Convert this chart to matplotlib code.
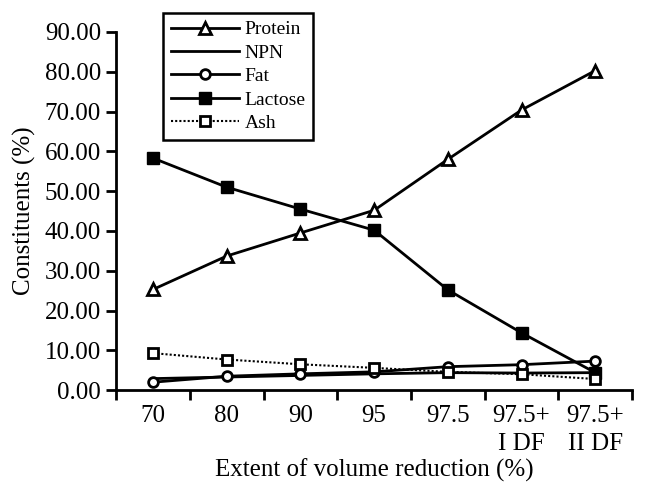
import numpy as np
import matplotlib
matplotlib.use("Agg")
import matplotlib.pyplot as plt

# Datos
categories = ["70", "80", "90", "95", "97.5", "97.5+\nI DF", "97.5+\nII DF"]
protein = [25.3, 33.7, 39.5, 45.2, 58.0, 70.4, 80.3]
npn = [2.9, 3.3, 3.7, 4.1, 4.4, 4.3, 4.4]
fat = [2.0, 3.5, 4.1, 4.6, 5.9, 6.4, 7.3]
lactose = [58.3, 51.0, 45.5, 40.2, 25.2, 14.4, 4.4]
ash = [9.3, 7.7, 6.5, 5.6, 4.6, 4.0, 2.8]

plt.rcParams['font.family'] = ['Liberation Serif', 'DejaVu Serif']

fig = plt.figure(figsize=(6.49, 4.92), dpi=100)
ax = fig.add_axes([0.179, 0.207, 0.795, 0.728])

x = np.arange(len(categories))
lw = 2.0
ax.plot(x, protein, color='black', lw=lw, marker='^', ms=8, mfc='white', mec='black', mew=2, label='Protein')
ax.plot(x, npn, color='black', lw=lw, label='NPN')
ax.plot(x, fat, color='black', lw=lw, marker='o', ms=7, mfc='white', mec='black', mew=2, label='Fat')
ax.plot(x, lactose, color='black', lw=lw, marker='s', ms=9, mfc='black', mec='black', label='Lactose')
ax.plot(x, ash, color='black', lw=1.5, ls=(0, (1, 1)), marker='s', ms=7, mfc='white', mec='black', mew=2, label='Ash')

ax.set_xlim(-0.5, len(categories) - 0.5)
ax.set_ylim(0, 90)
ax.set_yticks(np.arange(0, 91, 10))
ax.set_yticklabels([f"{v:.2f}" for v in np.arange(0, 91, 10)])

ax.set_xticks(np.arange(-0.5, len(categories), 1.0))
ax.set_xticklabels([])
ax.set_xticks(x, minor=True)
ax.set_xticklabels(categories, minor=True)
ax.tick_params(axis='x', which='minor', length=0, pad=11, labelsize=18)
ax.tick_params(axis='x', which='major', length=7, width=2, direction='out')
ax.tick_params(axis='y', length=7, width=2, direction='out', labelsize=18, pad=4)
for lab in ax.get_xticklabels(minor=True):
    lab.set_linespacing(1.35)
    lab.set_verticalalignment('top')

ax.spines['top'].set_visible(False)
ax.spines['right'].set_visible(False)
ax.spines['left'].set_linewidth(2)
ax.spines['bottom'].set_linewidth(2)

ax.set_ylabel("Constituents (%)", fontsize=18, labelpad=6)
ax.set_xlabel("Extent of volume reduction (%)", fontsize=18, labelpad=2)

leg = ax.legend(loc='upper left', bbox_to_anchor=(163 / 649, 1 - 13 / 492),
                bbox_transform=fig.transFigure, borderaxespad=0, fontsize=14,
                frameon=True, fancybox=False, edgecolor='black', framealpha=1,
                handlelength=3.5, borderpad=0.4, labelspacing=0.3, handletextpad=0.3)
leg.get_frame().set_linewidth(1.8)

fig.savefig("out.png", dpi=100)
